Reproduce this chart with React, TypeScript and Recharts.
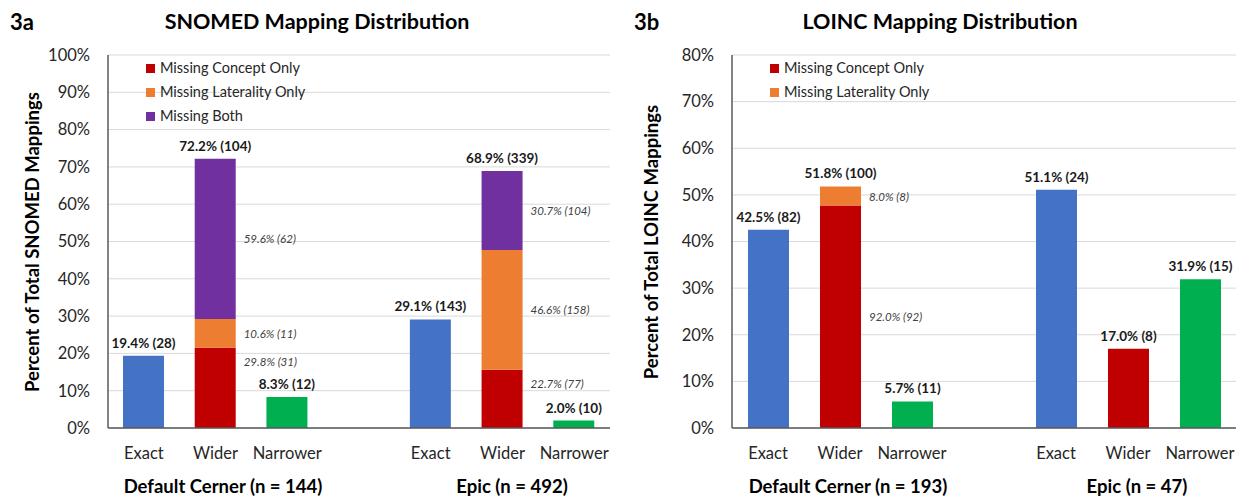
import React from 'react';
import { BarChart, Bar, XAxis, YAxis, CartesianGrid, LabelList } from 'recharts';

const FONT = 'Lato, "Open Sans", sans-serif';

// x slots: three bars per site with an empty slot between the two sites
const slotKeys = ['ce', 'cw', 'cn', 'gap', 'ee', 'ew', 'en'];
const slotLabels = ['Exact', 'Wider', 'Narrower', '', 'Exact', 'Wider', 'Narrower'];

// 3a SNOMED (percent of total mappings)
const snomedExact = [19.4, null, null, null, 29.1, null, null];
const snomedConcept = [null, 21.5, null, null, null, 15.6, null];
const snomedLaterality = [null, 7.7, null, null, null, 32.1, null];
const snomedBoth = [null, 43.0, null, null, null, 21.2, null];
const snomedNarrower = [null, null, 8.3, null, null, null, 2.0];
const snomedTotals = ['19.4% (28)', '72.2% (104)', '8.3% (12)', '', '29.1% (143)', '68.9% (339)', '2.0% (10)'];
const snomedConceptText = ['', '29.8% (31)', '', '', '', '22.7% (77)', ''];
const snomedLateralityText = ['', '10.6% (11)', '', '', '', '46.6% (158)', ''];
const snomedBothText = ['', '59.6% (62)', '', '', '', '30.7% (104)', ''];
const snomedTicks = [0, 10, 20, 30, 40, 50, 60, 70, 80, 90, 100];

// 3b LOINC
const loincExact = [42.5, null, null, null, 51.1, null, null];
const loincConcept = [null, 47.7, null, null, null, 17.0, null];
const loincLaterality = [null, 4.1, null, null, null, null, null];
const loincNarrower = [null, null, 5.7, null, null, null, 31.9];
const loincTotals = ['42.5% (82)', '51.8% (100)', '5.7% (11)', '', '51.1% (24)', '17.0% (8)', '31.9% (15)'];
const loincConceptText = ['', '92.0% (92)', '', '', '', '', ''];
const loincLateralityText = ['', '8.0% (8)', '', '', '', '', ''];
const loincTicks = [0, 10, 20, 30, 40, 50, 60, 70, 80];

const COLORS = {
  exact: '#4472C4',
  concept: '#C00000',
  laterality: '#ED7D31',
  both: '#7030A0',
  narrower: '#00B050',
};

const LEGEND_NAMES = {
  concept: 'Missing Concept Only',
  laterality: 'Missing Laterality Only',
  both: 'Missing Both',
};

type SeriesDef = {
  key: string;
  values: (number | null)[];
  text?: string[];
  place?: 'top' | 'middle';
};

function topKey(series: SeriesDef[], i: number) {
  let last = '';
  series.forEach((s) => {
    if (s.values[i] != null) last = s.key;
  });
  return last;
}

// one row per slot; label texts ride along in the row so LabelList gets them as value
function buildRows(series: SeriesDef[], totals: string[]) {
  return slotKeys.map((k, i) => {
    const row: any = { key: k };
    const top = topKey(series, i);
    series.forEach((s) => {
      row[s.key] = s.values[i];
      row[s.key + 'Total'] = top === s.key ? totals[i] : '';
      row[s.key + 'Text'] = s.text ? s.text[i] : '';
    });
    return row;
  });
}

type ChartProps = {
  left: number;
  width: number;
  axisWidth: number;
  marginRight: number;
  yMax: number;
  ticks: number[];
  series: SeriesDef[];
  totals: string[];
};

const TotalLabel = (props: any) => {
  const { x, y, width: w, value } = props;
  if (!value) return null;
  return (
    <text x={x + w / 2} y={y - 8} textAnchor="middle" fontFamily={FONT} fontSize={13.5} fontWeight={700} fill="#1a1a1a">
      {value}
    </text>
  );
};

const segLabel = (place?: string) => (props: any) => {
  const { x, y, width: w, height: h, value } = props;
  if (!value) return null;
  const ty = place === 'top' ? y + 14 : y + h / 2;
  return (
    <text x={x + w + 8} y={ty} dominantBaseline="central" fontFamily={FONT} fontSize={11.5} fontStyle="italic" fill="#404040">
      {value}
    </text>
  );
};

function MappingChart({ left, width, axisWidth, marginRight, yMax, ticks, series, totals }: ChartProps) {
  const rows = buildRows(series, totals);

  return (
    <div style={{ position: 'absolute', left, top: 0 }}>
      <BarChart
        width={width}
        height={497}
        data={rows}
        margin={{ top: 55, right: marginRight, bottom: 39, left: 0 }}
      >
        <CartesianGrid vertical={false} stroke="#d9d9d9" />
        <XAxis
          dataKey="key"
          height={30}
          interval={0}
          tickLine={false}
          tickSize={0}
          tickMargin={19}
          axisLine={{ stroke: '#595959', strokeWidth: 1.5 }}
          tickFormatter={(_v: any, i: number) => slotLabels[i]}
          tick={{ fontFamily: FONT, fontSize: 16.5, fill: '#262626' }}
        />
        <YAxis
          width={axisWidth}
          domain={[0, yMax]}
          ticks={ticks}
          interval={0}
          tickLine={false}
          tickSize={0}
          tickMargin={18}
          axisLine={{ stroke: '#595959', strokeWidth: 1.5 }}
          tickFormatter={(v: number) => `${v}%`}
          tick={{ fontFamily: FONT, fontSize: 16.5, fill: '#262626' }}
        />
        {series.map((s) => (
          <Bar key={s.key} dataKey={s.key} stackId="a" fill={COLORS[s.key]} barSize={41} isAnimationActive={false}>
            <LabelList dataKey={s.key + 'Total'} content={TotalLabel} />
            {s.text ? <LabelList dataKey={s.key + 'Text'} content={segLabel(s.place)} /> : null}
          </Bar>
        ))}
      </BarChart>
    </div>
  );
}

const abs = (extra: React.CSSProperties): React.CSSProperties => ({
  position: 'absolute',
  whiteSpace: 'nowrap',
  fontFamily: FONT,
  color: '#000',
  lineHeight: 1,
  ...extra,
});

function Legend({ left, top, keys }: { left: number; top: number; keys: string[] }) {
  return (
    <div style={abs({ left, top })}>
      {keys.map((k) => (
        <div key={k} style={{ display: 'flex', alignItems: 'center', height: 24, fontSize: 14.5, color: '#262626' }}>
          <span style={{ width: 9, height: 9, background: COLORS[k], marginRight: 5, display: 'inline-block' }} />
          {LEGEND_NAMES[k]}
        </div>
      ))}
    </div>
  );
}

function Overlay({ label, title, titleX, letterX, yLabel, yLabelX, groups }: any) {
  return (
    <>
      <div style={abs({ left: letterX, top: 11, fontSize: 22, fontWeight: 700 })}>{label}</div>
      <div style={abs({ left: titleX, top: 11, fontSize: 21.5, fontWeight: 700, transform: 'translateX(-50%)' })}>{title}</div>
      <div
        style={abs({
          left: yLabelX,
          top: 242,
          fontSize: 18.5,
          fontWeight: 700,
          transform: 'translate(-50%, -50%) rotate(-90deg)',
        })}
      >
        {yLabel}
      </div>
      {groups.map((g: any) => (
        <div key={g.text} style={abs({ left: g.x, top: 477, fontSize: 18.5, fontWeight: 700, transform: 'translateX(-50%)' })}>
          {g.text}
        </div>
      ))}
    </>
  );
}

export default function App() {
  const snomedSeries: SeriesDef[] = [
    { key: 'exact', values: snomedExact },
    { key: 'concept', values: snomedConcept, text: snomedConceptText, place: 'top' },
    { key: 'laterality', values: snomedLaterality, text: snomedLateralityText, place: 'middle' },
    { key: 'both', values: snomedBoth, text: snomedBothText, place: 'middle' },
    { key: 'narrower', values: snomedNarrower },
  ];
  const loincSeries: SeriesDef[] = [
    { key: 'exact', values: loincExact },
    { key: 'concept', values: loincConcept, text: loincConceptText, place: 'middle' },
    { key: 'laterality', values: loincLaterality, text: loincLateralityText, place: 'middle' },
    { key: 'narrower', values: loincNarrower },
  ];

  return (
    <div style={{ position: 'absolute', left: 0, top: 0, width: 1238, height: 497, background: '#fff', overflow: 'hidden' }}>
      <MappingChart
        left={0}
        width={619}
        axisWidth={108}
        marginRight={9}
        yMax={100}
        ticks={snomedTicks}
        series={snomedSeries}
        totals={snomedTotals}
      />
      <MappingChart
        left={620}
        width={618}
        axisWidth={112}
        marginRight={2}
        yMax={80}
        ticks={loincTicks}
        series={loincSeries}
        totals={loincTotals}
      />
      <Legend left={146} top={56} keys={['concept', 'laterality', 'both']} />
      <Legend left={770} top={56} keys={['concept', 'laterality']} />
      <Overlay
        label="3a"
        letterX={10}
        title="SNOMED Mapping Distribution"
        titleX={317}
        yLabel="Percent of Total SNOMED Mappings"
        yLabelX={32}
        groups={[
          { text: 'Default Cerner (n = 144)', x: 223 },
          { text: 'Epic (n = 492)', x: 512 },
        ]}
      />
      <Overlay
        label="3b"
        letterX={634}
        title="LOINC Mapping Distribution"
        titleX={940}
        yLabel="Percent of Total LOINC Mappings"
        yLabelX={651}
        groups={[
          { text: 'Default Cerner (n = 193)', x: 848 },
          { text: 'Epic (n = 47)', x: 1137 },
        ]}
      />
    </div>
  );
}
